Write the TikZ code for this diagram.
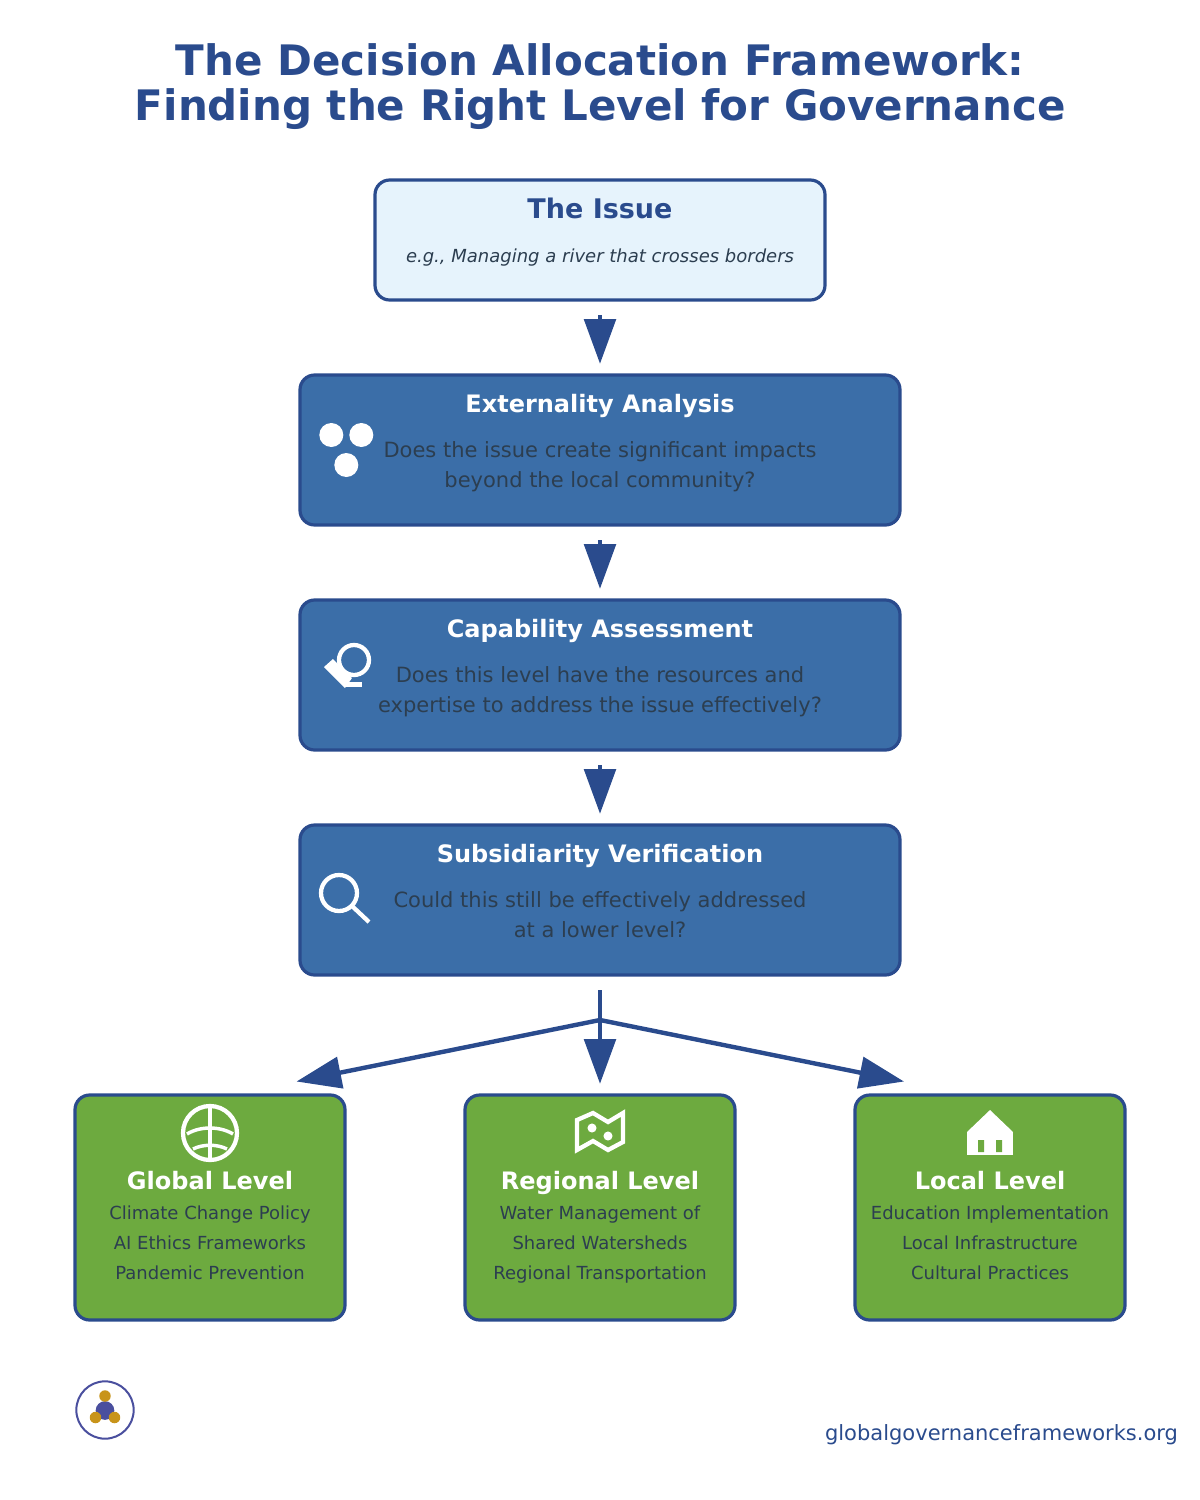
\documentclass[tikz,border=0pt]{standalone}
\usepackage{fontspec}
\setmainfont{DejaVu Sans}
\usetikzlibrary{arrows.meta}
\definecolor{navy}{HTML}{2A4B8D}
\definecolor{steel}{HTML}{3B6EA8}
\definecolor{leaf}{HTML}{6DAA3F}
\definecolor{pale}{HTML}{E6F3FC}
\definecolor{ink}{HTML}{2C3E50}
\definecolor{gold}{HTML}{C8941A}
\definecolor{violet}{HTML}{4A4F9E}
\tikzset{
  box/.style={draw=navy,line width=2.4pt,rounded corners=11pt,inner sep=0pt,outer sep=0pt},
  issuebox/.style={box,fill=pale,minimum width=337.5pt,minimum height=90pt},
  stepbox/.style={box,fill=steel,minimum width=450pt,minimum height=112.5pt},
  levelbox/.style={box,fill=leaf,minimum width=202.5pt,minimum height=168.75pt},
  txt/.style={anchor=base,inner sep=0pt,outer sep=0pt},
  titletxt/.style={txt,text=navy,font=\fontsize{31.5}{36}\selectfont\bfseries},
  headtxt/.style={txt,text=white,font=\fontsize{18}{22}\selectfont\bfseries},
  bodytxt/.style={txt,text=ink,font=\fontsize{15.75}{20}\selectfont},
  itemtxt/.style={txt,text=ink,font=\fontsize{13.5}{16}\selectfont},
  flow/.style={draw=navy,line width=3.3pt,-{Triangle[length=33.5pt,width=23.5pt]}},
  plainflow/.style={draw=navy,line width=3.3pt},
  icon/.style={draw=white,line width=3.2pt,fill=none},
}
\begin{document}
\begin{tikzpicture}[x=0.75pt,y=-0.75pt]
  \useasboundingbox (0,0) rectangle (1200,1500);
  % title
  \node[titletxt] (title1) at (600.2,75) {The Decision Allocation Framework:};
  \node[titletxt] (title2) at (600.2,120) {Finding the Right Level for Governance};
  % boxes
  \node[issuebox] (issue) at (600,240) {};
  \node[stepbox] (extern) at (600,450) {};
  \node[stepbox] (capab) at (600,675) {};
  \node[stepbox] (subsid) at (600,900) {};
  \node[levelbox] (global) at (210,1207.5) {};
  \node[levelbox] (regional) at (600,1207.5) {};
  \node[levelbox] (local) at (990,1207.5) {};
  % arrows
  \draw[flow,shorten <=11.25pt,shorten >=8.4pt] (issue) -- (extern);
  \draw[flow,shorten <=11.25pt,shorten >=8.4pt] (extern) -- (capab);
  \draw[flow,shorten <=11.25pt,shorten >=8.4pt] (capab) -- (subsid);
  \coordinate (fork) at (600,1020);
  \coordinate (toglobal) at (296.5,1081.5);
  \coordinate (tolocal) at (904,1081.5);
  \draw[plainflow,shorten <=11.25pt] (subsid) -- (fork);
  \draw[flow] (fork) -- (toglobal);
  \draw[flow,shorten >=8.4pt] (fork) -- (regional);
  \draw[flow] (fork) -- (tolocal);
  % issue text
  \node[txt,text=navy,font=\fontsize{20.25}{25}\selectfont\bfseries] (issuehead) at (600,218.3) {The Issue};
  \node[txt,text=ink,font=\fontsize{13.5}{16}\selectfont\itshape] (issuenote) at (600,262.8) {e.g., Managing a river that crosses borders};
  % steps
  \node[headtxt] (externhead) at (600,412.8) {Externality Analysis};
  \node[bodytxt] (externa) at (600,457.8) {Does the issue create significant impacts};
  \node[bodytxt] (externb) at (600,487.8) {beyond the local community?};
  \node[headtxt] (capabhead) at (600,637.8) {Capability Assessment};
  \node[bodytxt] (capaba) at (600,682.8) {Does this level have the resources and};
  \node[bodytxt] (capabb) at (600,712.8) {expertise to address the issue effectively?};
  \node[headtxt] (subsidhead) at (600,862.8) {Subsidiarity Verification};
  \node[bodytxt] (subsida) at (600,907.8) {Could this still be effectively addressed};
  \node[bodytxt] (subsidb) at (600,937.8) {at a lower level?};
  % levels
  \node[headtxt] (globalhead) at (210,1189.8) {Global Level};
  \node[itemtxt] (globala) at (210,1219.8) {Climate Change Policy};
  \node[itemtxt] (globalb) at (210,1249.8) {AI Ethics Frameworks};
  \node[itemtxt] (globalc) at (210,1279.8) {Pandemic Prevention};
  \node[headtxt] (regionalhead) at (600,1189.8) {Regional Level};
  \node[itemtxt] (regionala) at (600,1219.8) {Water Management of};
  \node[itemtxt] (regionalb) at (600,1249.8) {Shared Watersheds};
  \node[itemtxt] (regionalc) at (600,1279.8) {Regional Transportation};
  \node[headtxt] (localhead) at (990,1189.8) {Local Level};
  \node[itemtxt] (locala) at (990,1219.8) {Education Implementation};
  \node[itemtxt] (localb) at (990,1249.8) {Local Infrastructure};
  \node[itemtxt] (localc) at (990,1279.8) {Cultural Practices};
  % icons
  \fill[white] (331.3,435) circle (9pt) (361.3,435) circle (9pt) (346.3,465) circle (9pt);
  \draw[icon] (354,660) circle (11.25pt);
  \fill[white] (324,667) -- (333,659) -- (352,678) -- (345,688) -- cycle;
  \fill[white] (345,682) rectangle (362,687);
  \draw[icon] (339,893) circle (13.5pt);
  \draw[icon] (352,906) -- (369,922);
  \draw[icon] (210,1133) circle (20.25pt);
  \draw[icon,line width=2.6pt] (210,1105) -- (210,1161);
  \draw[icon,line width=2.6pt] (187,1134) .. controls (200,1126) and (220,1126) .. (233,1134);
  \draw[icon,line width=2.6pt] (193,1149) .. controls (203,1144) and (217,1144) .. (227,1149);
  \draw[icon,line join=miter] (577,1120) -- (593,1113) -- (608,1122) -- (623,1113) -- (623,1142) -- (608,1150) -- (593,1141) -- (577,1150) -- cycle;
  \fill[white] (592,1128) circle (3.4pt) (608,1136) circle (3.4pt);
  \fill[white] (990,1110) -- (1013,1132) -- (967,1132) -- cycle;
  \fill[white] (967,1132) rectangle (1013,1155);
  \fill[leaf] (978,1140) rectangle (984,1152) (996,1140) rectangle (1002,1152);
  % logo
  \draw[violet,line width=1.5pt] (105,1410) circle (21.5pt);
  \fill[violet] (105,1410.5) circle (7pt);
  \fill[gold] (105,1396) circle (4.3pt) (95.5,1417.5) circle (4.3pt) (114.5,1417.5) circle (4.3pt);
  % footer
  \node[txt,anchor=base east,text=navy,font=\fontsize{15.75}{18}\selectfont] (footer) at (1178,1440) {globalgovernanceframeworks.org};
\end{tikzpicture}
\end{document}
